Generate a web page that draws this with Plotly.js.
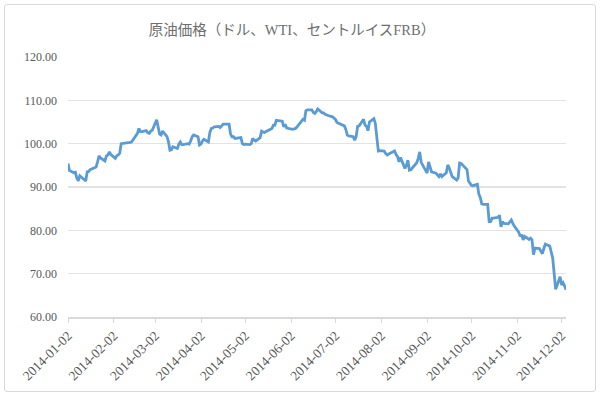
<!DOCTYPE html>
<html>
<head>
<meta charset="utf-8">
<script src="https://cdn.plot.ly/plotly-3.0.1.min.js"></script>
<style>
  html, body { margin: 0; padding: 0; background: #ffffff; }
  #wrap { position: relative; width: 600px; height: 396px; }
  #frame { position: absolute; left: 4px; top: 4px; width: 590px; height: 386px;
           border: 1px solid #d9d9d9; border-radius: 3px; }
  #chart { position: absolute; left: 0; top: 0; width: 600px; height: 396px; }
</style>
</head>
<body>
<div id="wrap">
  <div id="frame"></div>
  <div id="chart"></div>
</div>
<script>
const chartTitle = "原油価格（ドル、WTI、セントルイスFRB）";

const tradeDates = [
  "2014-01-02","2014-01-03","2014-01-06","2014-01-07","2014-01-08","2014-01-09","2014-01-10","2014-01-13","2014-01-14","2014-01-15","2014-01-16","2014-01-17","2014-01-21","2014-01-22","2014-01-23","2014-01-24","2014-01-27","2014-01-28","2014-01-29","2014-01-30","2014-01-31",
  "2014-02-03","2014-02-04","2014-02-05","2014-02-06","2014-02-07","2014-02-10","2014-02-11","2014-02-12","2014-02-13","2014-02-14","2014-02-18","2014-02-19","2014-02-20","2014-02-21","2014-02-24","2014-02-25","2014-02-26","2014-02-27","2014-02-28",
  "2014-03-03","2014-03-04","2014-03-05","2014-03-06","2014-03-07","2014-03-10","2014-03-11","2014-03-12","2014-03-13","2014-03-14","2014-03-17","2014-03-18","2014-03-19","2014-03-20","2014-03-21","2014-03-24","2014-03-25","2014-03-26","2014-03-27","2014-03-28","2014-03-31",
  "2014-04-01","2014-04-02","2014-04-03","2014-04-04","2014-04-07","2014-04-08","2014-04-09","2014-04-10","2014-04-11","2014-04-14","2014-04-15","2014-04-16","2014-04-17","2014-04-21","2014-04-22","2014-04-23","2014-04-24","2014-04-25","2014-04-28","2014-04-29","2014-04-30",
  "2014-05-01","2014-05-02","2014-05-05","2014-05-06","2014-05-07","2014-05-08","2014-05-09","2014-05-12","2014-05-13","2014-05-14","2014-05-15","2014-05-16","2014-05-19","2014-05-20","2014-05-21","2014-05-22","2014-05-23","2014-05-27","2014-05-28","2014-05-29","2014-05-30",
  "2014-06-02","2014-06-03","2014-06-04","2014-06-05","2014-06-06","2014-06-09","2014-06-10","2014-06-11","2014-06-12","2014-06-13","2014-06-16","2014-06-17","2014-06-18","2014-06-19","2014-06-20","2014-06-23","2014-06-24","2014-06-25","2014-06-26","2014-06-27","2014-06-30",
  "2014-07-01","2014-07-02","2014-07-03","2014-07-07","2014-07-08","2014-07-09","2014-07-10","2014-07-11","2014-07-14","2014-07-15","2014-07-16","2014-07-17","2014-07-18","2014-07-21","2014-07-22","2014-07-23","2014-07-24","2014-07-25","2014-07-28","2014-07-29","2014-07-30","2014-07-31",
  "2014-08-01","2014-08-04","2014-08-05","2014-08-06","2014-08-07","2014-08-08","2014-08-11","2014-08-12","2014-08-13","2014-08-14","2014-08-15","2014-08-18","2014-08-19","2014-08-20","2014-08-21","2014-08-22","2014-08-25","2014-08-26","2014-08-27","2014-08-28","2014-08-29",
  "2014-09-02","2014-09-03","2014-09-04","2014-09-05","2014-09-08","2014-09-09","2014-09-10","2014-09-11","2014-09-12","2014-09-15","2014-09-16","2014-09-17","2014-09-18","2014-09-19","2014-09-22","2014-09-23","2014-09-24","2014-09-25","2014-09-26","2014-09-29","2014-09-30",
  "2014-10-01","2014-10-02","2014-10-03","2014-10-06","2014-10-07","2014-10-08","2014-10-09","2014-10-10","2014-10-13","2014-10-14","2014-10-15","2014-10-16","2014-10-17","2014-10-20","2014-10-21","2014-10-22","2014-10-23","2014-10-24","2014-10-27","2014-10-28","2014-10-29","2014-10-30","2014-10-31",
  "2014-11-03","2014-11-04","2014-11-05","2014-11-06","2014-11-07","2014-11-10","2014-11-11","2014-11-12","2014-11-13","2014-11-14","2014-11-17","2014-11-18","2014-11-19","2014-11-20","2014-11-21","2014-11-24","2014-11-25","2014-11-26","2014-11-28",
  "2014-12-01","2014-12-02","2014-12-03","2014-12-04","2014-12-05"
];

const wtiPrices = [
  95.4,93.8,93.3,93.4,92.0,91.4,92.6,91.6,91.4,93.5,93.6,94.0,94.6,95.8,97.2,96.7,96.0,97.2,97.4,98.1,97.5,
  96.6,97.2,97.4,97.8,100.0,100.1,100.1,100.3,100.3,100.4,102.4,103.5,102.8,102.8,103.0,102.5,102.4,102.9,103.1,
  105.5,103.5,102.2,102.0,102.9,101.6,100.4,98.5,98.6,99.3,98.9,99.9,100.4,99.8,99.8,100.0,99.9,100.6,101.6,102.0,101.6,
  99.7,99.9,100.6,101.0,100.4,102.6,103.5,103.6,103.9,104.0,103.7,104.0,104.5,104.5,102.2,101.6,101.6,101.2,101.3,101.4,100.0,
  99.8,99.9,99.8,100.0,101.2,100.8,100.6,101.4,102.9,102.7,102.6,102.8,103.2,103.5,104.3,104.3,105.4,105.2,103.9,104.5,103.6,
  103.3,103.3,103.4,103.5,103.9,105.4,105.6,105.4,107.6,107.8,107.8,107.2,107.0,107.4,108.0,107.1,107.1,106.8,106.6,106.5,106.2,
  106.0,105.6,104.9,104.3,104.1,103.3,102.0,101.8,101.6,100.8,101.6,104.0,104.1,105.6,104.3,104.0,103.0,105.0,105.8,104.6,100.8,98.3,
  98.4,98.3,97.7,97.4,97.6,97.8,98.3,97.5,97.0,95.8,96.8,94.3,95.0,96.2,93.9,94.0,95.2,95.6,96.6,98.1,95.7,
  93.2,95.8,94.8,93.5,93.2,92.7,92.4,93.0,92.4,93.3,95.1,94.4,93.2,92.4,91.6,92.1,95.5,95.4,95.1,94.0,91.4,
  90.9,90.4,90.3,90.6,88.4,87.6,86.1,86.0,86.0,82.0,82.0,82.8,82.8,83.0,83.5,80.8,82.0,81.6,81.5,82.0,82.4,81.6,81.0,
  79.6,78.6,79.0,77.8,78.6,77.9,78.2,77.8,74.4,75.9,75.8,75.2,74.6,75.8,76.8,76.4,75.2,73.6,66.4,
  69.3,67.4,67.9,67.2,66.3
];

const tickDates = ["2014-01-02","2014-02-02","2014-03-02","2014-04-02","2014-05-02","2014-06-02",
                   "2014-07-02","2014-08-02","2014-09-02","2014-10-02","2014-11-02","2014-12-02"];
const yTicks = [60, 70, 80, 90, 100, 110, 120];

const serif = "Liberation Serif, DejaVu Serif, Noto Sans CJK JP, serif";

const trace = {
  x: tradeDates,
  y: wtiPrices,
  type: "scatter",
  mode: "lines",
  line: { color: "#5b9bd5", width: 2.8 },
  hoverinfo: "skip"
};

const layout = {
  width: 600,
  height: 396,
  margin: { l: 68, r: 34, t: 57, b: 79 },
  paper_bgcolor: "rgba(0,0,0,0)",
  plot_bgcolor: "rgba(0,0,0,0)",
  showlegend: false,
  title: {
    text: chartTitle,
    font: { family: serif, size: 14.5, color: "#6e6e6e" },
    x: 292 / 600, xanchor: "center", xref: "container",
    y: 1 - 30 / 396, yanchor: "middle", yref: "container"
  },
  xaxis: {
    type: "date",
    range: [tradeDates[0], tradeDates[tradeDates.length - 1]],
    tickmode: "array",
    tickvals: tickDates,
    ticktext: tickDates,
    tickangle: -45,
    tickfont: { family: serif, size: 13.5, color: "#595959" },
    showgrid: false,
    zeroline: false,
    showline: true,
    linecolor: "#d9d9d9",
    linewidth: 1.5,
    ticks: "outside",
    ticklen: 4,
    tickcolor: "#d9d9d9",
    tickwidth: 1
  },
  yaxis: {
    range: [60, 120],
    tickmode: "array",
    tickvals: yTicks,
    tickformat: ".2f",
    tickfont: { family: serif, size: 12, color: "#595959" },
    showgrid: true,
    gridcolor: "#e3e3e3",
    gridwidth: 1.5,
    zeroline: false,
    showline: false,
    ticks: "",
    ticklabelstandoff: 10
  }
};

Plotly.newPlot("chart", [trace], layout, { displayModeBar: false, staticPlot: true });
</script>
</body>
</html>
